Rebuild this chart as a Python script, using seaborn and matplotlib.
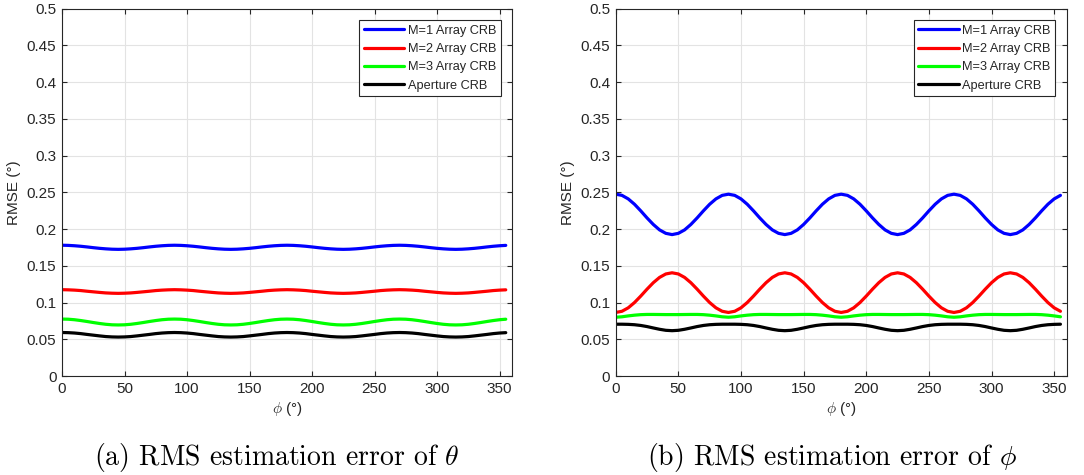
import numpy as np
import pandas as pd
import matplotlib
matplotlib.use("Agg")
import matplotlib.pyplot as plt
import seaborn as sns

# ---------------- data ----------------
phi_deg = list(range(0, 360, 5))   # 0 ... 355

series_names = ["M=1 Array CRB", "M=2 Array CRB", "M=3 Array CRB", "Aperture CRB"]
series_colors = ["#0000ff", "#ff0000", "#00ff00", "#000000"]

# (a) RMS estimation error of theta
theta_m1 = [0.1780, 0.1778, 0.1773, 0.1766, 0.1757, 0.1747, 0.1738, 0.1731, 0.1726, 0.1724, 0.1726, 0.1731, 0.1738, 0.1747, 0.1757, 0.1766, 0.1773, 0.1778,
            0.1780, 0.1778, 0.1773, 0.1766, 0.1757, 0.1747, 0.1738, 0.1731, 0.1726, 0.1724, 0.1726, 0.1731, 0.1738, 0.1747, 0.1757, 0.1766, 0.1773, 0.1778,
            0.1780, 0.1778, 0.1773, 0.1766, 0.1757, 0.1747, 0.1738, 0.1731, 0.1726, 0.1724, 0.1726, 0.1731, 0.1738, 0.1747, 0.1757, 0.1766, 0.1773, 0.1778,
            0.1780, 0.1778, 0.1773, 0.1766, 0.1757, 0.1747, 0.1738, 0.1731, 0.1726, 0.1724, 0.1726, 0.1731, 0.1738, 0.1747, 0.1757, 0.1766, 0.1773, 0.1778]
theta_m2 = [0.1175, 0.1173, 0.1169, 0.1163, 0.1154, 0.1146, 0.1138, 0.1131, 0.1127, 0.1125, 0.1127, 0.1131, 0.1138, 0.1146, 0.1154, 0.1163, 0.1169, 0.1173,
            0.1175, 0.1173, 0.1169, 0.1163, 0.1154, 0.1146, 0.1138, 0.1131, 0.1127, 0.1125, 0.1127, 0.1131, 0.1138, 0.1146, 0.1154, 0.1163, 0.1169, 0.1173,
            0.1175, 0.1173, 0.1169, 0.1163, 0.1154, 0.1146, 0.1138, 0.1131, 0.1127, 0.1125, 0.1127, 0.1131, 0.1138, 0.1146, 0.1154, 0.1163, 0.1169, 0.1173,
            0.1175, 0.1173, 0.1169, 0.1163, 0.1154, 0.1146, 0.1138, 0.1131, 0.1127, 0.1125, 0.1127, 0.1131, 0.1138, 0.1146, 0.1154, 0.1163, 0.1169, 0.1173]
theta_m3 = [0.0775, 0.0773, 0.0766, 0.0755, 0.0742, 0.0728, 0.0715, 0.0704, 0.0697, 0.0695, 0.0697, 0.0704, 0.0715, 0.0728, 0.0742, 0.0755, 0.0766, 0.0773,
            0.0775, 0.0773, 0.0766, 0.0755, 0.0742, 0.0728, 0.0715, 0.0704, 0.0697, 0.0695, 0.0697, 0.0704, 0.0715, 0.0728, 0.0742, 0.0755, 0.0766, 0.0773,
            0.0775, 0.0773, 0.0766, 0.0755, 0.0742, 0.0728, 0.0715, 0.0704, 0.0697, 0.0695, 0.0697, 0.0704, 0.0715, 0.0728, 0.0742, 0.0755, 0.0766, 0.0773,
            0.0775, 0.0773, 0.0766, 0.0755, 0.0742, 0.0728, 0.0715, 0.0704, 0.0697, 0.0695, 0.0697, 0.0704, 0.0715, 0.0728, 0.0742, 0.0755, 0.0766, 0.0773]
theta_ap = [0.0592, 0.0590, 0.0585, 0.0577, 0.0566, 0.0556, 0.0546, 0.0537, 0.0532, 0.0530, 0.0532, 0.0537, 0.0546, 0.0556, 0.0566, 0.0577, 0.0585, 0.0590,
            0.0592, 0.0590, 0.0585, 0.0577, 0.0566, 0.0556, 0.0546, 0.0537, 0.0532, 0.0530, 0.0532, 0.0537, 0.0546, 0.0556, 0.0566, 0.0577, 0.0585, 0.0590,
            0.0592, 0.0590, 0.0585, 0.0577, 0.0566, 0.0556, 0.0546, 0.0537, 0.0532, 0.0530, 0.0532, 0.0537, 0.0546, 0.0556, 0.0566, 0.0577, 0.0585, 0.0590,
            0.0592, 0.0590, 0.0585, 0.0577, 0.0566, 0.0556, 0.0546, 0.0537, 0.0532, 0.0530, 0.0532, 0.0537, 0.0546, 0.0556, 0.0566, 0.0577, 0.0585, 0.0590]

# (b) RMS estimation error of phi
phi_m1 = [0.2475, 0.2459, 0.2411, 0.2338, 0.2248, 0.2152, 0.2063, 0.1989, 0.1942, 0.1925, 0.1942, 0.1989, 0.2063, 0.2152, 0.2248, 0.2338, 0.2411, 0.2459,
          0.2475, 0.2459, 0.2411, 0.2338, 0.2248, 0.2152, 0.2063, 0.1989, 0.1942, 0.1925, 0.1942, 0.1989, 0.2063, 0.2152, 0.2248, 0.2338, 0.2411, 0.2459,
          0.2475, 0.2459, 0.2411, 0.2338, 0.2248, 0.2152, 0.2063, 0.1989, 0.1942, 0.1925, 0.1942, 0.1989, 0.2063, 0.2152, 0.2248, 0.2338, 0.2411, 0.2459,
          0.2475, 0.2459, 0.2411, 0.2338, 0.2248, 0.2152, 0.2063, 0.1989, 0.1942, 0.1925, 0.1942, 0.1989, 0.2063, 0.2152, 0.2248, 0.2338, 0.2411, 0.2459]
phi_m2 = [0.0865, 0.0881, 0.0928, 0.1000, 0.1088, 0.1182, 0.1270, 0.1342, 0.1389, 0.1405, 0.1389, 0.1342, 0.1270, 0.1182, 0.1088, 0.1000, 0.0928, 0.0881,
          0.0865, 0.0881, 0.0928, 0.1000, 0.1088, 0.1182, 0.1270, 0.1342, 0.1389, 0.1405, 0.1389, 0.1342, 0.1270, 0.1182, 0.1088, 0.1000, 0.0928, 0.0881,
          0.0865, 0.0881, 0.0928, 0.1000, 0.1088, 0.1182, 0.1270, 0.1342, 0.1389, 0.1405, 0.1389, 0.1342, 0.1270, 0.1182, 0.1088, 0.1000, 0.0928, 0.0881,
          0.0865, 0.0881, 0.0928, 0.1000, 0.1088, 0.1182, 0.1270, 0.1342, 0.1389, 0.1405, 0.1389, 0.1342, 0.1270, 0.1182, 0.1088, 0.1000, 0.0928, 0.0881]
phi_m3 = [0.0800, 0.0806, 0.0818, 0.0828, 0.0835, 0.0838, 0.0838, 0.0837, 0.0836, 0.0836, 0.0836, 0.0837, 0.0838, 0.0838, 0.0835, 0.0828, 0.0818, 0.0806,
          0.0800, 0.0806, 0.0818, 0.0828, 0.0835, 0.0838, 0.0838, 0.0837, 0.0836, 0.0836, 0.0836, 0.0837, 0.0838, 0.0838, 0.0835, 0.0828, 0.0818, 0.0806,
          0.0800, 0.0806, 0.0818, 0.0828, 0.0835, 0.0838, 0.0838, 0.0837, 0.0836, 0.0836, 0.0836, 0.0837, 0.0838, 0.0838, 0.0835, 0.0828, 0.0818, 0.0806,
          0.0800, 0.0806, 0.0818, 0.0828, 0.0835, 0.0838, 0.0838, 0.0837, 0.0836, 0.0836, 0.0836, 0.0837, 0.0838, 0.0838, 0.0835, 0.0828, 0.0818, 0.0806]
phi_ap = [0.0705, 0.0705, 0.0703, 0.0698, 0.0688, 0.0673, 0.0654, 0.0636, 0.0622, 0.0617, 0.0622, 0.0636, 0.0654, 0.0673, 0.0688, 0.0698, 0.0703, 0.0705,
          0.0705, 0.0705, 0.0703, 0.0698, 0.0688, 0.0673, 0.0654, 0.0636, 0.0622, 0.0617, 0.0622, 0.0636, 0.0654, 0.0673, 0.0688, 0.0698, 0.0703, 0.0705,
          0.0705, 0.0705, 0.0703, 0.0698, 0.0688, 0.0673, 0.0654, 0.0636, 0.0622, 0.0617, 0.0622, 0.0636, 0.0654, 0.0673, 0.0688, 0.0698, 0.0703, 0.0705,
          0.0705, 0.0705, 0.0703, 0.0698, 0.0688, 0.0673, 0.0654, 0.0636, 0.0622, 0.0617, 0.0622, 0.0636, 0.0654, 0.0673, 0.0688, 0.0698, 0.0703, 0.0705]

x_ticks = [0, 50, 100, 150, 200, 250, 300, 350]
y_ticks = [0, 0.05, 0.1, 0.15, 0.2, 0.25, 0.3, 0.35, 0.4, 0.45, 0.5]
y_tick_labels = ["0", "0.05", "0.1", "0.15", "0.2", "0.25", "0.3", "0.35", "0.4", "0.45", "0.5"]

captions = [r"(a) RMS estimation error of $\theta$", r"(b) RMS estimation error of $\phi$"]

# ---------------- style ----------------
sns.set_theme(style="ticks")
plt.rcParams["font.family"] = ["Liberation Sans", "DejaVu Sans"]
plt.rcParams["mathtext.fontset"] = "cm"

axis_col = "#262626"


def make_frame(vals):
    rows = []
    for name, v in zip(series_names, vals):
        rows.append(pd.DataFrame({"phi": phi_deg, "rmse": v, "series": name}))
    return pd.concat(rows, ignore_index=True)


frames = [make_frame([theta_m1, theta_m2, theta_m3, theta_ap]),
          make_frame([phi_m1, phi_m2, phi_m3, phi_ap])]

fig = plt.figure(figsize=(10.84, 4.75), dpi=100)
positions = [[62 / 1084, 99 / 475, 450 / 1084, 367.3 / 475],
             [615.7 / 1084, 99 / 475, 451 / 1084, 367.3 / 475]]
caption_x = [277 / 1084, 832 / 1084]

palette = dict(zip(series_names, series_colors))

for i, df in enumerate(frames):
    ax = fig.add_axes(positions[i])
    sns.lineplot(data=df, x="phi", y="rmse", hue="series", hue_order=series_names,
                 palette=palette, linewidth=2.3, ax=ax, legend=False)
    ax.set_xlim(0, 360)
    ax.set_ylim(0, 0.5)
    ax.set_xticks(x_ticks)
    ax.set_yticks(y_ticks)
    ax.set_yticklabels(y_tick_labels)
    ax.grid(True, color="#e3e3e3", linewidth=0.8)
    ax.set_axisbelow(True)
    for sp in ax.spines.values():
        sp.set_visible(True)
        sp.set_color(axis_col)
        sp.set_linewidth(0.8)
    ax.tick_params(direction="in", length=3.6, width=0.8, color=axis_col,
                   labelcolor=axis_col, labelsize=11, top=True, right=True, pad=4)
    ax.set_xlabel(r"$\phi$ (°)", fontsize=11, color=axis_col, labelpad=3)
    ax.set_ylabel("RMSE (°)", fontsize=11, color=axis_col, labelpad=4)

    handles = [plt.Line2D([], [], color=c, lw=2.3) for c in series_colors]
    leg = ax.legend(handles, series_names, loc="upper right", fontsize=9.2,
                    frameon=True, fancybox=False, edgecolor=axis_col,
                    handlelength=3.2, handletextpad=0.25, labelspacing=0.5,
                    borderpad=0.35, borderaxespad=0.9)
    leg.get_frame().set_linewidth(0.8)
    leg.get_frame().set_alpha(1.0)

    fig.text(caption_x[i], 1 - 457 / 475, captions[i], ha="center", va="center",
             fontsize=20, family="cmr10", color="black")

fig.savefig("out.png", dpi=100, facecolor="white")
